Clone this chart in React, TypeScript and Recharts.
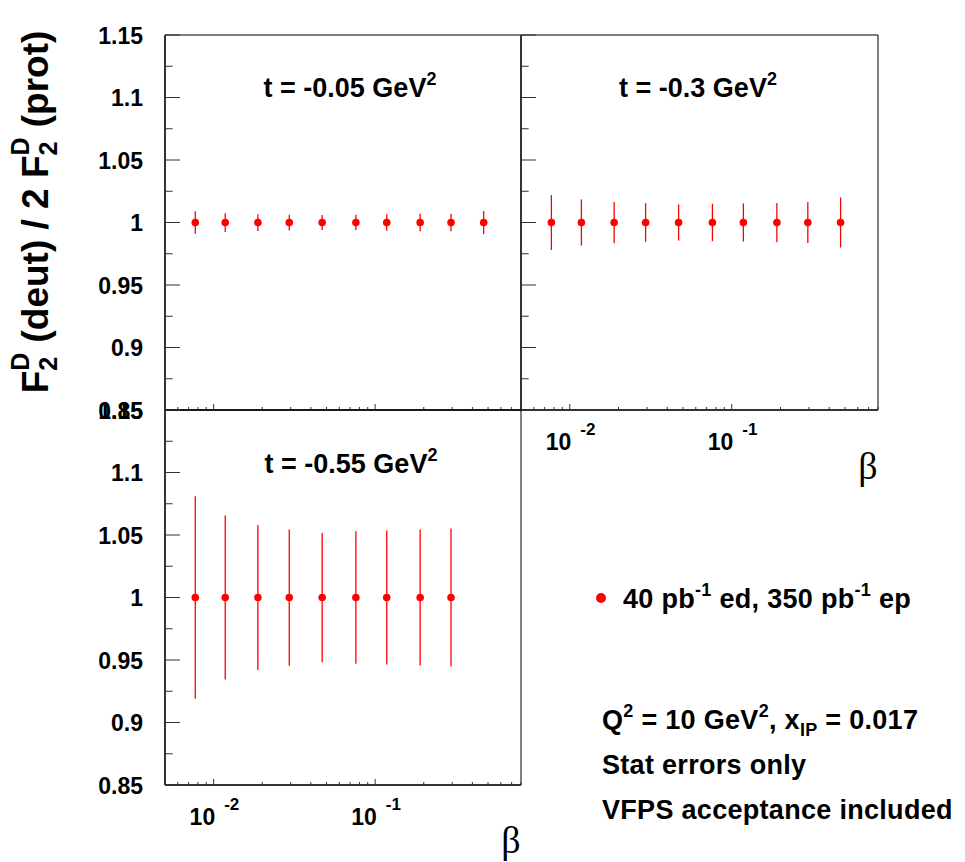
import { ScatterChart, Scatter, XAxis, YAxis, ErrorBar, ReferenceArea } from 'recharts'

// beta bin centres (same for all t bins)
const betaValues = [0.0077, 0.0118, 0.0188, 0.0294, 0.047, 0.076, 0.118, 0.19, 0.295, 0.47]

// t = -0.05 GeV^2
const ratioT005 = [1, 1, 1, 1, 1, 1, 1, 1, 1, 1]
const errT005 = [0.009, 0.0075, 0.0067, 0.0063, 0.006, 0.0062, 0.0066, 0.007, 0.007, 0.0092]

// t = -0.3 GeV^2
const ratioT03 = [1, 1, 1, 1, 1, 1, 1, 1, 1, 1]
const errT03 = [0.022, 0.0185, 0.0165, 0.0155, 0.0145, 0.015, 0.0153, 0.0157, 0.0164, 0.02]

// t = -0.55 GeV^2 (last bin missing)
const ratioT055 = [1, 1, 1, 1, 1, 1, 1, 1, 1]
const errT055 = [0.081, 0.0656, 0.058, 0.0545, 0.0517, 0.053, 0.0536, 0.0544, 0.0552]

const xTicks = [
  0.005, 0.006, 0.007, 0.008, 0.009, 0.01,
  0.02, 0.03, 0.04, 0.05, 0.06, 0.07, 0.08, 0.09, 0.1,
  0.2, 0.3, 0.4, 0.5, 0.6, 0.7, 0.8
]
const xLabels: Record<string, string> = { '0.01': '-2', '0.1': '-1' }
const yTicks = [0.85, 0.875, 0.9, 0.925, 0.95, 0.975, 1, 1.025, 1.05, 1.075, 1.1, 1.125, 1.15]

const X_DOMAIN = [0.005, 0.8]
const Y_DOMAIN = [0.85, 1.15]

const RED = '#ff0000'
const AXIS = '#333'
const FONT = '"Liberation Sans", Arial, Helvetica, sans-serif'
const SERIF = '"Liberation Serif", "Times New Roman", serif'

const makeRows = (ratio: number[], err: number[]) =>
  ratio.map((r, i) => ({ beta: betaValues[i], ratio: r, err: err[i] }))

const isMajorY = (v: number) => Math.abs(v * 20 - Math.round(v * 20)) < 1e-6

function YTick(props: any) {
  const { x, y, payload, showLabel } = props
  const major = isMajorY(payload.value)
  return (
    <g>
      <line x1={x} x2={x + (major ? 15 : 7.7)} y1={y} y2={y} stroke={AXIS} strokeWidth={1} />
      {showLabel && major && (
        <text x={x - 22} y={y + 8.5} textAnchor="end" fontFamily={FONT} fontWeight="bold" fontSize={23} fill="#000">
          {String(payload.value)}
        </text>
      )}
    </g>
  )
}

function XTick(props: any) {
  const { x, y, payload, showLabel } = props
  const exp = xLabels[String(payload.value)]
  const major = exp !== undefined
  return (
    <g>
      <line x1={x} x2={x} y1={y} y2={y - (major ? 6 : 3)} stroke={AXIS} strokeWidth={1} />
      {showLabel && major && (
        <text x={x - 24} y={y + 40} fontFamily={FONT} fontWeight="bold" fontSize={23} fill="#000">
          10
          <tspan dx={9} dy={-15} fontSize={17}>{exp}</tspan>
        </text>
      )}
    </g>
  )
}

interface PanelProps {
  rows: { beta: number; ratio: number; err: number }[]
  left: number
  right: number
  top: number
  bottom: number
  yLabels: boolean
  xLabels: boolean
}

function Panel({ rows, left, right, top, bottom, yLabels, xLabels: showX }: PanelProps) {
  const W = 965
  const H = 862
  const yAxisW = 60
  const xAxisH = 50
  return (
    <div style={{ position: 'absolute', left: 0, top: 0 }}>
      <ScatterChart
        width={W}
        height={H}
        margin={{ left: left - yAxisW, right: W - right, top, bottom: H - bottom - xAxisH }}
      >
        <XAxis
          dataKey="beta"
          type="number"
          scale="log"
          domain={X_DOMAIN}
          allowDataOverflow
          ticks={xTicks}
          interval={0}
          height={xAxisH}
          tickSize={0}
          tickMargin={0}
          axisLine={{ stroke: AXIS, strokeWidth: 2 }}
          tick={(p: any) => <XTick {...p} showLabel={showX} />}
        />
        <YAxis
          dataKey="ratio"
          type="number"
          domain={Y_DOMAIN}
          allowDataOverflow
          ticks={yTicks}
          interval={0}
          width={yAxisW}
          tickSize={0}
          tickMargin={0}
          axisLine={{ stroke: AXIS, strokeWidth: 2 }}
          tick={(p: any) => <YTick {...p} showLabel={yLabels} />}
        />
        <ReferenceArea
          x1={X_DOMAIN[0]}
          x2={X_DOMAIN[1]}
          y1={Y_DOMAIN[0]}
          y2={Y_DOMAIN[1]}
          fill="#fff"
          fillOpacity={0}
          stroke="#000"
          strokeWidth={1}
          ifOverflow="visible"
        />
        <Scatter
          data={rows}
          isAnimationActive={false}
          shape={(p: any) => <circle cx={p.cx} cy={p.cy} r={3.8} fill={RED} />}
        >
          <ErrorBar dataKey="err" direction="y" width={0} stroke={RED} strokeWidth={1.3} isAnimationActive={false} />
        </Scatter>
      </ScatterChart>
    </div>
  )
}

const txt = { fontFamily: FONT, fontWeight: 'bold' as const, fill: '#000' }

export default function App() {
  return (
    <div style={{ position: 'absolute', left: 0, top: 0, width: 965, height: 862, background: '#fff', overflow: 'hidden' }}>
      <Panel rows={makeRows(ratioT005, errT005)} left={165} right={521} top={35} bottom={410} yLabels xLabels={false} />
      <Panel rows={makeRows(ratioT03, errT03)} left={521} right={878} top={35} bottom={410} yLabels={false} xLabels />
      <Panel rows={makeRows(ratioT055, errT055)} left={165} right={521} top={410} bottom={785} yLabels xLabels />

      <svg width={965} height={862} style={{ position: 'absolute', left: 0, top: 0, pointerEvents: 'none' }}>
        {/* y axis title */}
        <text transform="translate(48,212) rotate(-90)" textAnchor="middle" fontSize={37} {...txt}>
          F
          <tspan fontSize={25} dy={9}>2</tspan>
          <tspan fontSize={25} dx={-14} dy={-28}>D</tspan>
          <tspan dy={19}> (deut) / 2 F</tspan>
          <tspan fontSize={25} dy={9}>2</tspan>
          <tspan fontSize={25} dx={-14} dy={-28}>D</tspan>
          <tspan dy={19}> (prot)</tspan>
        </text>

        {/* panel titles */}
        <text x={350} y={97} textAnchor="middle" fontSize={27} {...txt}>
          t = -0.05 GeV<tspan fontSize={18} dy={-12}>2</tspan>
        </text>
        <text x={698} y={97} textAnchor="middle" fontSize={27} {...txt}>
          t = -0.3 GeV<tspan fontSize={18} dy={-12}>2</tspan>
        </text>
        <text x={351} y={473} textAnchor="middle" fontSize={27} {...txt}>
          t = -0.55 GeV<tspan fontSize={18} dy={-12}>2</tspan>
        </text>

        {/* beta axis titles */}
        <text x={868} y={479} textAnchor="middle" fontSize={38} fontFamily={SERIF} fill="#000">β</text>
        <text x={511} y={853} textAnchor="middle" fontSize={38} fontFamily={SERIF} fill="#000">β</text>

        {/* legend */}
        <circle cx={601} cy={598} r={5} fill={RED} />
        <text x={623} y={608} fontSize={27} letterSpacing={0.3} {...txt}>
          40 pb<tspan fontSize={18} dy={-12}>-1</tspan>
          <tspan dy={12}> ed, 350 pb</tspan>
          <tspan fontSize={18} dy={-12}>-1</tspan>
          <tspan dy={12}> ep</tspan>
        </text>

        <text x={602} y={729} fontSize={27} letterSpacing={0.3} {...txt}>
          Q<tspan fontSize={18} dy={-12}>2</tspan>
          <tspan dy={12}> = 10 GeV</tspan>
          <tspan fontSize={18} dy={-12}>2</tspan>
          <tspan dy={12}>, x</tspan>
          <tspan fontSize={18} dy={7}>IP</tspan>
          <tspan dy={-7}> = 0.017</tspan>
        </text>
        <text x={602} y={774} fontSize={27} letterSpacing={0.3} {...txt}>Stat errors only</text>
        <text x={602} y={819} fontSize={27} letterSpacing={0.3} {...txt}>VFPS acceptance included</text>
      </svg>
    </div>
  )
}
